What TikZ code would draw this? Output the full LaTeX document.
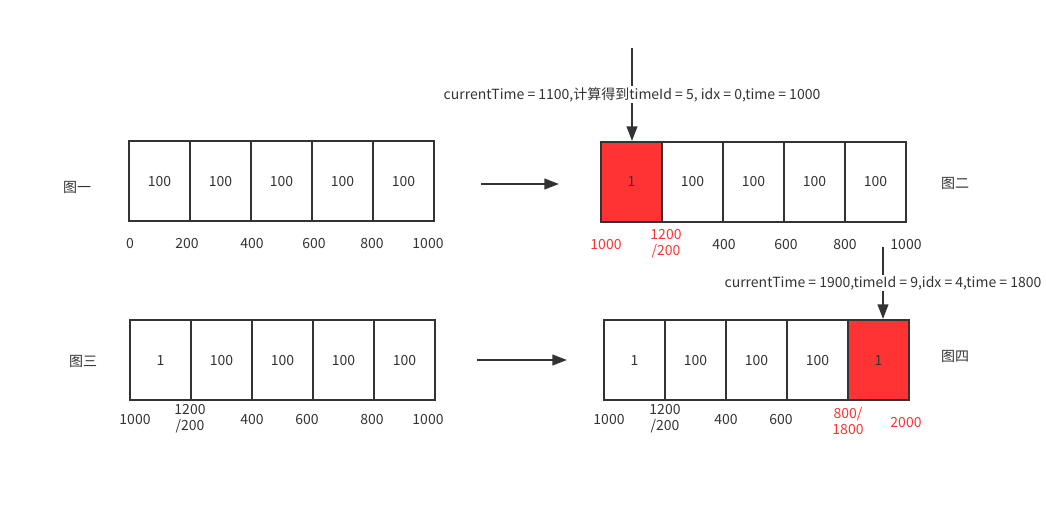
\documentclass[tikz,border=0pt]{standalone}
\usepackage{fontspec}
\setmainfont{Noto Sans CJK SC}
\usetikzlibrary{arrows.meta, positioning}
\definecolor{cellred}{HTML}{FF3333}
\definecolor{ink}{HTML}{333333}

\begin{document}
\begin{tikzpicture}[
    x=0.75pt, y=-0.75pt, node distance=45.75pt, on grid,
    >={Triangle[length=11pt,width=8pt]},
    every node/.style={font=\fontsize{10.5}{12}\selectfont, text=ink},
    cell/.style={draw=ink, line width=1.5pt, minimum width=45.75pt, minimum height=60pt, inner sep=0pt},
    hot/.style={cell, fill=cellred},
    tick/.style={align=center, inner sep=0pt},
    redtick/.style={tick, text=cellred},
    flow/.style={->, draw=ink, line width=1.5pt},
  ]
  \useasboundingbox (0,0) rectangle (1046,512);

  % 图一
  \node[cell] (a_0) at (159.5,181) {100};
  \node[cell] (a_1) [right=of a_0] {100};
  \node[cell] (a_2) [right=of a_1] {100};
  \node[cell] (a_3) [right=of a_2] {100};
  \node[cell] (a_4) [right=of a_3] {100};
  \node (a_name) at (77,187) {图一};
  \node[tick] at (130,243) {0};
  \node[tick] at (187,243) {200};
  \node[tick] at (252,243) {400};
  \node[tick] at (314,243) {600};
  \node[tick] at (372,243) {800};
  \node[tick] at (428,243) {1000};

  % 图二
  \node[hot]  (b_0) at (631.5,182) {1};
  \node[cell] (b_1) [right=of b_0] {100};
  \node[cell] (b_2) [right=of b_1] {100};
  \node[cell] (b_3) [right=of b_2] {100};
  \node[cell] (b_4) [right=of b_3] {100};
  \node (b_name) at (955,183) {图二};
  \node[redtick] at (606,244) {1000};
  \node[redtick] at (666,244) {1200\\/200};
  \node[tick] at (724,244) {400};
  \node[tick] at (786,244) {600};
  \node[tick] at (845,244) {800};
  \node[tick] at (906,244) {1000};

  % 图三
  \node[cell] (c_0) at (160.5,360) {1};
  \node[cell] (c_1) [right=of c_0] {100};
  \node[cell] (c_2) [right=of c_1] {100};
  \node[cell] (c_3) [right=of c_2] {100};
  \node[cell] (c_4) [right=of c_3] {100};
  \node (c_name) at (83,361) {图三};
  \node[tick] at (135,419) {1000};
  \node[tick] at (190,419) {1200\\/200};
  \node[tick] at (252,419) {400};
  \node[tick] at (307,419) {600};
  \node[tick] at (372,419) {800};
  \node[tick] at (428,419) {1000};

  % 图四
  \node[cell] (d_0) at (634.5,360) {1};
  \node[cell] (d_1) [right=of d_0] {100};
  \node[cell] (d_2) [right=of d_1] {100};
  \node[cell] (d_3) [right=of d_2] {100};
  \node[hot]  (d_4) [right=of d_3] {1};
  \node (d_name) at (955,356) {图四};
  \node[tick] at (609,419) {1000};
  \node[tick] at (665,419) {1200\\/200};
  \node[tick] at (726,419) {400};
  \node[tick] at (781,419) {600};
  \node[redtick] at (848,421) {800/\\1800};
  \node[redtick] at (906,422) {2000};

  % arrows
  \coordinate (s_1) at (481,184);
  \coordinate (e_1) at (559,184);
  \coordinate (s_2) at (477,360);
  \coordinate (e_2) at (567,360);
  \coordinate (t_1) at (632,48);
  \coordinate (t_2) at (883,247);
  \draw[flow] (s_1) -- (e_1);
  \draw[flow] (s_2) -- (e_2);
  \draw[flow] (t_1) -- node[fill=white, inner sep=1pt] {currentTime = 1100,计算得到timeId = 5, idx = 0,time = 1000} (t_1 |- b_0.north);
  \draw[flow] (t_2) -- node[fill=white, inner sep=1pt] {currentTime = 1900,timeId = 9,idx = 4,time = 1800} (t_2 |- d_4.north);
\end{tikzpicture}
\end{document}
